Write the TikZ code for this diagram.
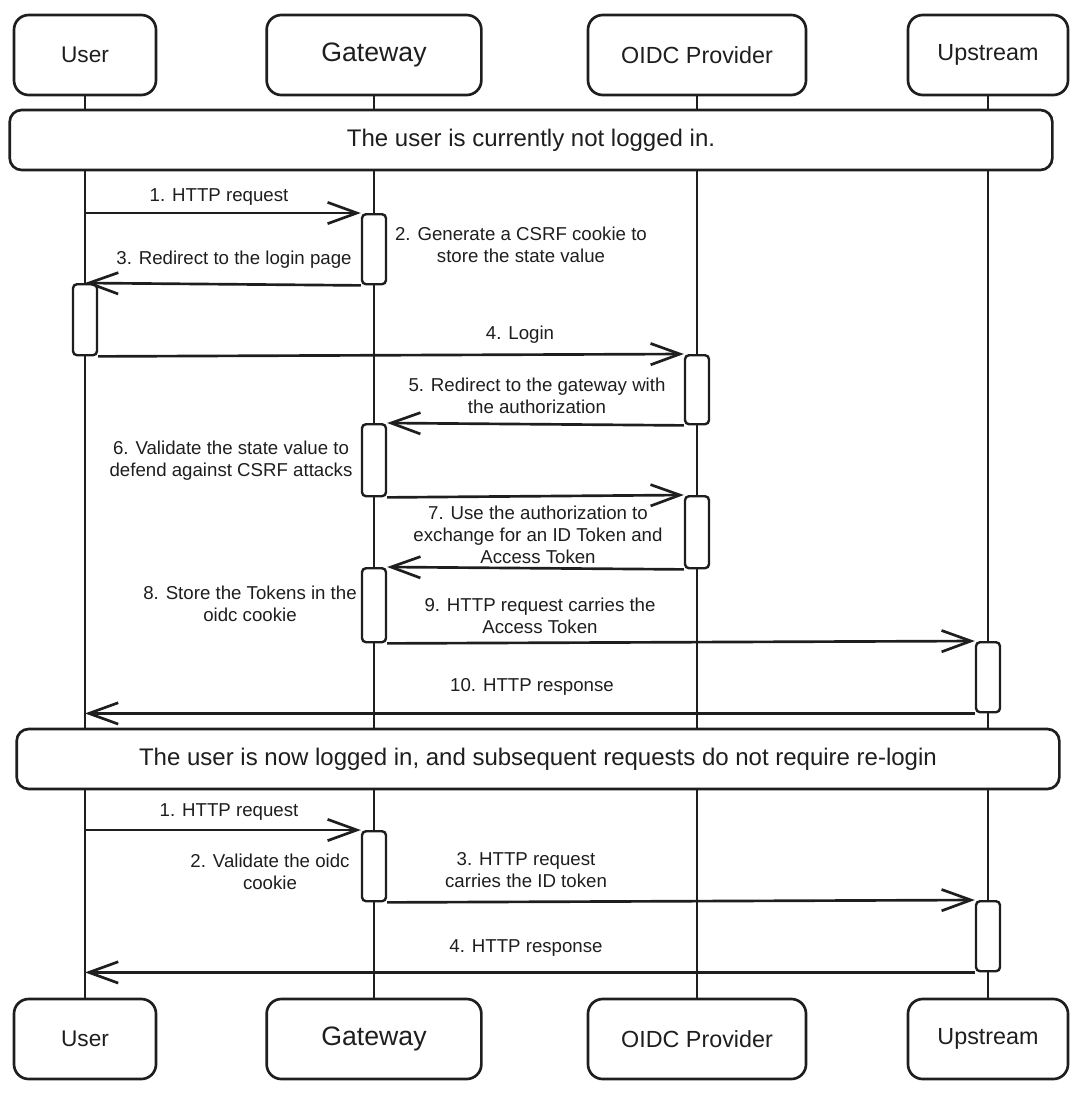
\documentclass[tikz,border=0pt]{standalone}
\usepackage{fontspec}
\setmainfont{Liberation Sans}
\usetikzlibrary{arrows.meta,positioning}
\definecolor{ink}{HTML}{1E1E1E}

\begin{document}
\begin{tikzpicture}[x=0.75pt,y=-0.75pt,
  head/.style={draw=ink,line width=2pt,rounded corners=11pt,minimum height=60pt,text=ink},
  band/.style={draw=ink,fill=white,line width=2pt,rounded corners=9pt,minimum width=782pt,minimum height=45pt,text=ink,font=\fontsize{18}{21}\selectfont},
  act/.style={draw=ink,fill=white,line width=1.8pt,rounded corners=3pt,minimum width=18pt,inner sep=0pt,anchor=north},
  life/.style={ink,line width=2.1pt},
  msg/.style={ink,line width=2pt,-{Straight Barb[length=22pt,width=16pt]}},
  lbl/.style={font=\fontsize{14}{16.3}\selectfont,align=center,text=ink}]
\useasboundingbox (0,0) rectangle (1080,1093);
% participants at both ends, joined by their lifelines
\foreach \n/\x/\w/\s/\t in {user/85/106.5pt/17/User,gate/374/161pt/20/Gateway,oidc/697/163.5pt/17.5/OIDC Provider,up/988/120pt/17.5/Upstream}{
  \node[head,minimum width=\w,font=\fontsize{\s}{\s}\selectfont] (\n) at (\x,55) {\t};
  \node[head,minimum width=\w,font=\fontsize{\s}{\s}\selectfont] (\n-end) at (\x,1039) {\t};
  \draw[life] (\n.south) -- (\n-end.north);}
% state banners
\node[band] (before) at (531,140) {The user is currently not logged in.};
\node[band] (after) at (538,759) {The user is now logged in, and subsequent requests do not require re-login};
% activation bars
\foreach \n/\x/\ya/\yb in {g1/374/213/283,u1/85/283/354,o1/697/354/423,g2/374/423/495,o2/697/495/567,g3/374/567/641,p1/988/641/711,g4/374/830/900,p2/988/900/970}
  \node[act,minimum height={(\yb-\ya)*0.75pt}] (\n) at (\x,\ya) {};
% messages
\draw[msg] (g1.north west -| user.south) -- (g1.north west);
\draw[msg] (g1.south west) -- (u1.north);
\draw[msg] (u1.south east) -- (o1.north west);
\draw[msg] (o1.south west) -- (g2.north east);
\draw[msg] (g2.south east) -- (o2.north west);
\draw[msg] (o2.south west) -- (g3.north east);
\draw[msg] (g3.south east) -- (p1.north west);
\draw[msg] (p1.south west) -- (p1.south west -| user.south);
\draw[msg] (g4.north west -| user.south) -- (g4.north west);
\draw[msg] (g4.south east) -- (p2.north west);
\draw[msg] (p2.south west) -- (p2.south west -| user.south);
% labels
\node[lbl] (l1) at (219,197) {1. HTTP request};
\node[lbl] (l2) at (521,245) {2. Generate a CSRF cookie to\\store the state value};
\node[lbl] (l3) at (234,260) {3. Redirect to the login page};
\node[lbl] (l4) at (520,335) {4. Login};
\node[lbl] (l5) at (537,396) {5. Redirect to the gateway with\\the authorization};
\node[lbl] (l6) at (231,461) {6. Validate the state value to\\defend against CSRF attacks};
\node[lbl] (l7) at (538,535) {7. Use the authorization to\\exchange for an ID Token and\\Access Token};
\node[lbl] (l8) at (250,604) {8. Store the Tokens in the\\oidc cookie};
\node[lbl] (l9) at (540,616) {9. HTTP request carries the\\Access Token};
\node[lbl] (l10) at (532,687) {10. HTTP response};
\node[lbl] (l11) at (229,812) {1. HTTP request};
\node[lbl] (l12) at (270,872) {2. Validate the oidc\\cookie};
\node[lbl] (l13) at (526,870) {3. HTTP request\\carries the ID token};
\node[lbl] (l14) at (526,948) {4. HTTP response};
\end{tikzpicture}
\end{document}
